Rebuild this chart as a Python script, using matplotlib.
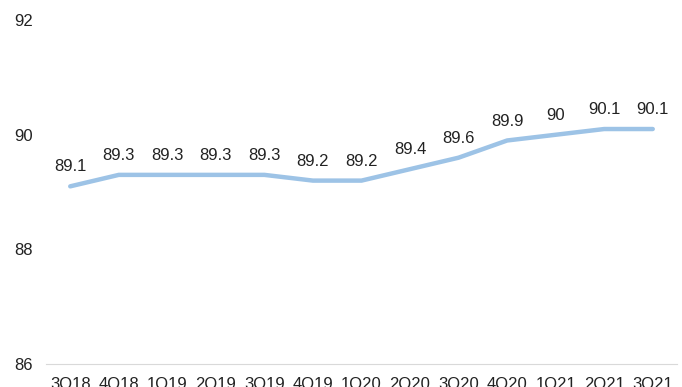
import matplotlib.pyplot as plt

plt.rcParams['font.family'] = ['Liberation Sans Narrow', 'Liberation Sans', 'DejaVu Sans']

quarters = ["3Q18", "4Q18", "1Q19", "2Q19", "3Q19", "4Q19", "1Q20",
            "2Q20", "3Q20", "4Q20", "1Q21", "2Q21", "3Q21"]
values = [89.1, 89.3, 89.3, 89.3, 89.3, 89.2, 89.2, 89.4, 89.6, 89.9, 90, 90.1, 90.1]
labels = ["89.1", "89.3", "89.3", "89.3", "89.3", "89.2", "89.2",
          "89.4", "89.6", "89.9", "90", "90.1", "90.1"]

fig = plt.figure(figsize=(6.82, 3.87), dpi=100)
ax = fig.add_axes([0.0674, 0.0594, 0.9253, 0.8886])

x = range(len(quarters))
ax.plot(x, values, color="#9dc3e6", linewidth=3.2, solid_capstyle="round")

for xi, v, t in zip(x, values, labels):
    ax.annotate(t, (xi, v), xytext=(0, 14), textcoords="offset points",
                ha="center", va="center", fontsize=12, color="#222222")

ax.set_xlim(-0.5, len(quarters) - 0.5)
ax.set_ylim(86, 92)
ax.set_yticks([86, 88, 90, 92])
ax.set_xticks(list(x))
ax.set_xticklabels(quarters)

for s in ["top", "right", "left"]:
    ax.spines[s].set_visible(False)
ax.spines["bottom"].set_color("#d9d9d9")
ax.spines["bottom"].set_linewidth(0.8)
ax.tick_params(axis="both", length=0, labelsize=12, colors="#222222")
ax.tick_params(axis="x", pad=9)
for lbl in ax.get_yticklabels():
    lbl.set_horizontalalignment("left")
ax.yaxis.set_tick_params(pad=23)

fig.savefig("out.png", dpi=100)
